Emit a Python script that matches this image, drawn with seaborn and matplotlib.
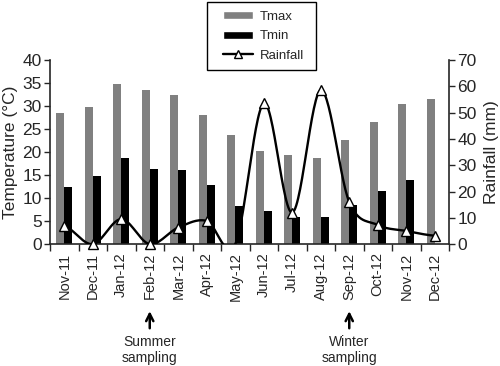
import numpy as np
import pandas as pd
import matplotlib
matplotlib.use('Agg')
import matplotlib.pyplot as plt
import seaborn as sns
from matplotlib.patches import Patch, Rectangle
from matplotlib.lines import Line2D

# Monthly data
months = ['Nov-11', 'Dec-11', 'Jan-12', 'Feb-12', 'Mar-12', 'Apr-12', 'May-12',
          'Jun-12', 'Jul-12', 'Aug-12', 'Sep-12', 'Oct-12', 'Nov-12', 'Dec-12']
tmax = [28.4, 29.9, 34.8, 33.5, 32.5, 28.1, 23.7, 20.3, 19.3, 18.8, 22.6, 26.5, 30.5, 31.6]
tmin = [12.4, 14.9, 18.7, 16.4, 16.1, 12.8, 8.2, 7.3, 5.8, 5.9, 8.6, 11.6, 13.9, np.nan]
rainfall = [7.0, 0.0, 9.5, 0.0, 6.3, 8.8, 0.0, 53.5, 12.0, 58.5, 16.0, 7.3, 5.0, 3.2]
annotations = {'Feb-12': 'Summer\nsampling', 'Sep-12': 'Winter\nsampling'}

sns.set_style('ticks')
plt.rcParams['font.family'] = ['Liberation Sans', 'DejaVu Sans']

df = pd.DataFrame({'month': months, 'Tmax': tmax, 'Tmin': tmin})
long = df.melt(id_vars='month', var_name='series', value_name='temp')

W, H = 500, 366
fig = plt.figure(figsize=(W / 100, H / 100), dpi=100)
ax = fig.add_axes([0.1, 0.333, 0.798, 0.503])

sns.barplot(data=long, x='month', y='temp', hue='series', order=months,
            hue_order=['Tmax', 'Tmin'], palette={'Tmax': '#808080', 'Tmin': 'black'},
            width=0.56, linewidth=0, legend=False, ax=ax)

ax.set_xlim(-0.5, len(months) - 0.5)
ax.set_ylim(0, 40)
ax.set_yticks(np.arange(0, 41, 5))
ax.set_xlabel('')
ax.set_ylabel('Temperature (°C)', fontsize=12.5, labelpad=3)
ax.tick_params(axis='y', labelsize=12.5, length=4, width=1, pad=2)
ax.tick_params(axis='x', which='major', length=0, labelsize=10.5, labelrotation=90, pad=6)
ax.set_xticks(np.arange(-0.5, len(months)), minor=True)
ax.tick_params(axis='x', which='minor', length=5, width=1)
for s in ['left', 'bottom']:
    ax.spines[s].set_linewidth(1.2)
ax.spines['top'].set_visible(False)
ax.spines['right'].set_visible(False)

# Rainfall on secondary axis, smoothed like a spreadsheet line
ax2 = ax.twinx()
xs = np.arange(len(months), dtype=float)
ys = np.array(rainfall)
pts = np.concatenate([[ys[0]], ys, [ys[-1]]])
sx, sy = [], []
for i in range(len(xs) - 1):
    p0, p1, p2, p3 = pts[i], pts[i + 1], pts[i + 2], pts[i + 3]
    m1 = (p2 - p0) / 2
    m2 = (p3 - p1) / 2
    t = np.linspace(0, 1, 30)
    h00 = 2 * t**3 - 3 * t**2 + 1
    h10 = t**3 - 2 * t**2 + t
    h01 = -2 * t**3 + 3 * t**2
    h11 = t**3 - t**2
    sx.extend(xs[i] + t)
    sy.extend(h00 * p1 + h10 * m1 + h01 * p2 + h11 * m2)
ax2.plot(sx, sy, color='black', lw=1.7)
# the May-12 marker is not visible in the original
shown = [i for i in range(len(months)) if months[i] != 'May-12']
ax2.plot(xs, ys, linestyle='none', marker='^', markersize=6.5, markerfacecolor='white',
         markeredgecolor='black', markeredgewidth=1, markevery=shown,
         clip_on=False, zorder=5)
ax2.set_ylim(0, 70)
ax2.set_yticks(np.arange(0, 71, 10))
ax2.set_ylabel('Rainfall (mm)', fontsize=12.5, labelpad=5)
ax2.tick_params(axis='y', labelsize=12.5, length=4, width=1, pad=2)
ax2.spines['top'].set_visible(False)
ax2.spines['left'].set_visible(False)
ax2.spines['bottom'].set_visible(False)
ax2.spines['right'].set_linewidth(1.2)

# Sampling arrows
xt = ax.get_xaxis_transform()
for m, label in annotations.items():
    x = months.index(m)
    ax.annotate('', xy=(x, -0.364), xytext=(x, -0.457), xycoords=xt, textcoords=xt,
                arrowprops=dict(arrowstyle='->', lw=1.8, color='black',
                                mutation_scale=13, shrinkA=0, shrinkB=0))
    ax.text(x, -0.577, label, transform=xt, ha='center', va='center',
            fontsize=10, linespacing=1.2)

# Legend with a separately drawn frame
handles = [Patch(facecolor='#808080', label='Tmax'),
           Patch(facecolor='black', label='Tmin'),
           Line2D([], [], color='black', lw=1.7, marker='^', markersize=6,
                  markerfacecolor='white', markeredgecolor='black', label='Rainfall')]
fig.legend(handles=handles, loc='upper left', bbox_to_anchor=(223 / W, 1 - 11 / H),
           fontsize=9.5, frameon=False, handlelength=2.3, handleheight=0.55,
           labelspacing=0.55, borderpad=0, borderaxespad=0, handletextpad=0.5)
fig.patches.append(Rectangle((207 / W, 1 - 70 / H), 109 / W, 68 / H,
                             transform=fig.transFigure, fill=False,
                             edgecolor='black', linewidth=1))

fig.savefig('out.png', dpi=100)
